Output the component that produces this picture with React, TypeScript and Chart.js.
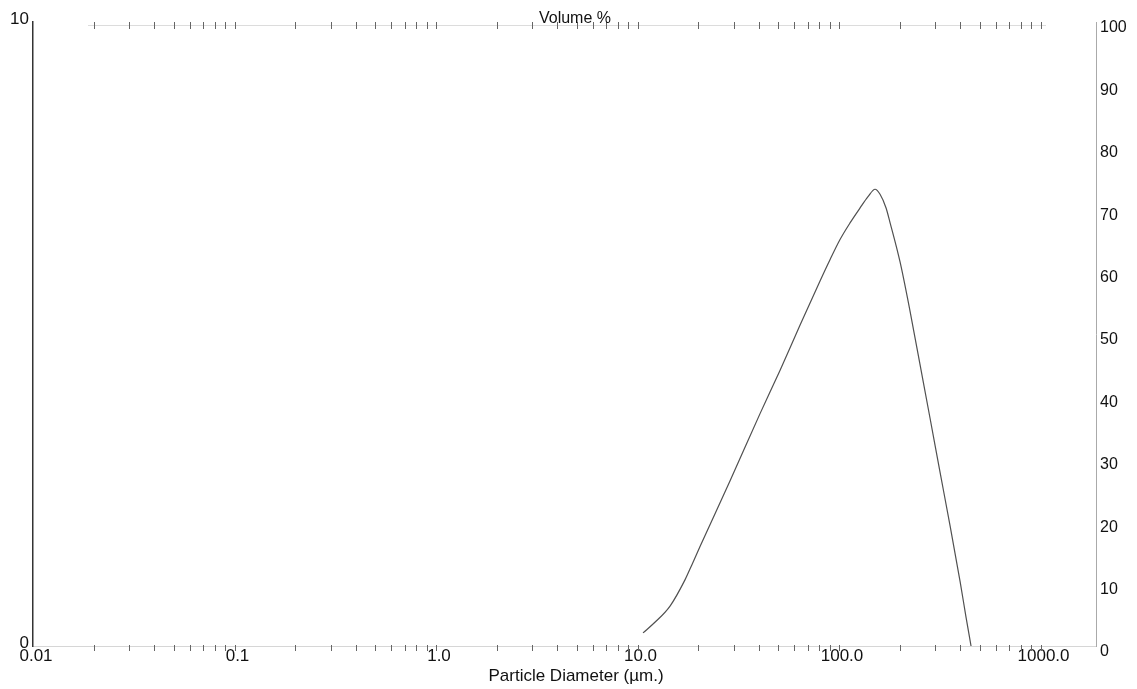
import { useEffect, useRef } from "react";
import { Chart, registerables } from "chart.js";

Chart.register(...registerables);

// Particle diameter (µm) and volume %
const diameters = [10.65, 12.2, 14.5, 17.2, 18.6, 20.4, 28.8, 40.5, 51.0, 64.0, 80.5, 90.2, 101, 113.4, 127.2, 139.3, 150.9, 159.8, 171.2, 179, 201, 225, 252, 283, 317, 356, 399, 427, 452];
const volumePercent = [0.21, 0.38, 0.64, 1.06, 1.3, 1.59, 2.65, 3.72, 4.42, 5.14, 5.85, 6.19, 6.51, 6.78, 7.02, 7.2, 7.32, 7.24, 7.02, 6.79, 6.15, 5.37, 4.52, 3.65, 2.79, 1.92, 1.03, 0.46, 0.0];

const xTickValues = [0.01, 0.1, 1, 10, 100, 1000];
const xTickLabels = ["0.01", "0.1", "1.0", "10.0", "100.0", "1000.0"];
const minorMultipliers = [2, 3, 4, 5, 6, 7, 8, 9];
const leftTickValues = [0, 10];
const leftTickLabels = ["0", "10"];
const rightTickValues = [0, 10, 20, 30, 40, 50, 60, 70, 80, 90, 100];

const X_MIN = 0.01;
const X_MAX = 1885;

const yTitle = "Volume %";
const xTitle = "Particle Diameter (µm.)";

const FONT = "'Liberation Sans', Arial, sans-serif";

export default function App() {
  const ref = useRef<HTMLCanvasElement>(null);

  useEffect(() => {
    if (!ref.current) return;

    const allXTicks: number[] = [];
    xTickValues.forEach((d) => {
      allXTicks.push(d);
      minorMultipliers.forEach((m) => {
        const v = d * m;
        if (v <= X_MAX) allXTicks.push(v);
      });
    });

    const decorations = {
      id: "decorations",
      afterDraw(chart: any) {
        const { ctx, chartArea } = chart;
        const xs = chart.scales.x;
        ctx.save();
        // top faint axis line
        ctx.strokeStyle = "#dcdcdc";
        ctx.lineWidth = 1;
        ctx.beginPath();
        ctx.moveTo(chartArea.left + 55, chartArea.top + 3.5);
        ctx.lineTo(chartArea.right - 50, chartArea.top + 3.5);
        ctx.stroke();
        // crossing tick marks, bottom and top
        ctx.strokeStyle = "#666";
        xs.ticks.forEach((t: any) => {
          if (t.value <= X_MIN * 1.0001) return;
          const px = Math.round(xs.getPixelForValue(t.value)) + 0.5;
          ctx.beginPath();
          ctx.moveTo(px, chartArea.bottom - 1);
          ctx.lineTo(px, chartArea.bottom + 5);
          ctx.moveTo(px, chartArea.top);
          ctx.lineTo(px, chartArea.top + 7);
          ctx.stroke();
        });
        // texts
        ctx.fillStyle = "#111";
        ctx.textAlign = "center";
        ctx.textBaseline = "middle";
        ctx.font = `16px ${FONT}`;
        ctx.fillText(yTitle, 575, 19);
        ctx.font = `17px ${FONT}`;
        ctx.fillText(xTitle, 576, 676);
        ctx.restore();
      },
    };

    const chart = new Chart(ref.current, {
      type: "line",
      data: {
        datasets: [
          {
            data: diameters.map((d, i) => ({ x: d, y: volumePercent[i] })),
            borderColor: "#505050",
            borderWidth: 1.2,
            pointRadius: 0,
            fill: false,
            cubicInterpolationMode: "monotone",
            yAxisID: "y",
          },
        ],
      },
      options: {
        responsive: false,
        animation: false,
        devicePixelRatio: 1,
        layout: { padding: { top: 22, left: 0, right: 0, bottom: 0 } },
        plugins: {
          legend: { display: false },
          tooltip: { enabled: false },
          title: { display: false },
        },
        scales: {
          x: {
            type: "logarithmic",
            position: "bottom",
            min: X_MIN,
            max: X_MAX,
            afterBuildTicks: (s: any) => {
              s.ticks = allXTicks.map((v) => ({ value: v }));
            },
            afterFit: (s: any) => {
              s.height = 43;
            },
            grid: { display: false, drawTicks: false },
            border: { display: true, color: "#d6d6d6", width: 1 },
            ticks: {
              autoSkip: false,
              maxRotation: 0,
              minRotation: 0,
              padding: 0,
              labelOffset: 3,
              color: "#111",
              font: { family: FONT, size: 17 },
              callback: (value: any) => {
                const v = Number(value);
                const i = xTickValues.findIndex((t) => Math.abs(v - t) / t < 1e-6);
                return i >= 0 ? xTickLabels[i] : "";
              },
            },
          },
          y: {
            type: "linear",
            position: "left",
            min: 0,
            max: 10,
            afterBuildTicks: (s: any) => {
              s.ticks = leftTickValues.map((v) => ({ value: v }));
            },
            afterFit: (s: any) => {
              s.width = 33;
            },
            grid: { display: false, drawTicks: false },
            border: { display: true, color: "#333", width: 1.5 },
            ticks: {
              padding: 4,
              labelOffset: -3,
              color: "#111",
              font: { family: FONT, size: 17 },
              callback: (value: any) => {
                const i = leftTickValues.indexOf(Number(value));
                return i >= 0 ? leftTickLabels[i] : "";
              },
            },
          },
          y2: {
            type: "linear",
            position: "right",
            min: 0,
            max: 100,
            afterBuildTicks: (s: any) => {
              s.ticks = rightTickValues.map((v) => ({ value: v }));
            },
            afterFit: (s: any) => {
              s.width = 41;
            },
            grid: { display: false, drawTicks: false },
            border: { display: true, color: "#aaa", width: 1 },
            ticks: {
              padding: 4,
              labelOffset: 6,
              color: "#111",
              font: { family: FONT, size: 16 },
            },
          },
        },
      },
      plugins: [decorations],
    } as any);

    return () => chart.destroy();
  }, []);

  return (
    <div style={{ position: "fixed", left: 0, top: 0, width: 1137, height: 689, background: "#fff" }}>
      <canvas ref={ref} width={1137} height={689} style={{ display: "block" }} />
    </div>
  );
}
